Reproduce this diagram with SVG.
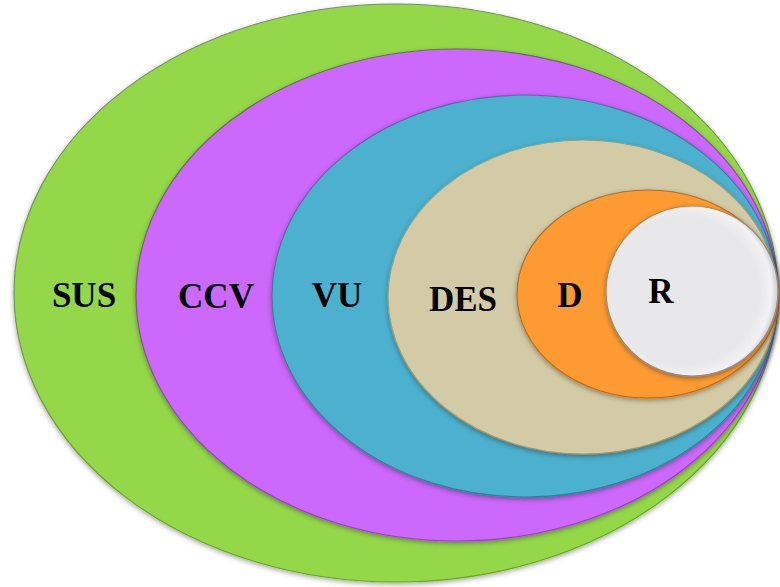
<svg xmlns="http://www.w3.org/2000/svg" width="780" height="587" viewBox="0 0 780 587">
<defs>
<filter id="sh" x="-10%" y="-10%" width="120%" height="120%">
<feDropShadow dx="0" dy="2" stdDeviation="2.5" flood-color="#000" flood-opacity="0.35"/>
</filter>
<radialGradient id="wg" cx="0.45" cy="0.5" r="0.55">
<stop offset="0.8" stop-color="#E8E8EA"/>
<stop offset="0.93" stop-color="#F2F2F4"/>
<stop offset="1" stop-color="#C8CCD2"/>
</radialGradient>
</defs>
<style>
.e{filter:url(#sh);stroke-width:1.2}
.t{font-family:"Liberation Serif","Times New Roman",serif;font-weight:bold;font-size:35px;fill:#000;text-anchor:middle}
</style>
<rect width="780" height="587" fill="#fff"/>
<g id="SUS">
<ellipse class="e" cx="396" cy="293" rx="382" ry="289" fill="#94D84A" stroke="#6E9E36"/>
<text class="t" x="84" y="307">SUS</text>
</g>
<g id="CCV">
<ellipse class="e" cx="457" cy="295" rx="321" ry="246" fill="#CC68FC" stroke="#8E4AB0"/>
<text class="t" x="216" y="308">CCV</text>
</g>
<g id="VU">
<ellipse class="e" cx="525" cy="296" rx="253" ry="201" fill="#4BB1CF" stroke="#357F96"/>
<text class="t" x="337" y="307">VU</text>
</g>
<g id="DES">
<ellipse class="e" cx="583" cy="297" rx="195" ry="157" fill="#D3CBA5" stroke="#A39A72"/>
<text class="t" x="463" y="311">DES</text>
</g>
<g id="D">
<ellipse class="e" cx="648" cy="294" rx="131" ry="104" fill="#FD9A32" stroke="#C06A18"/>
<text class="t" x="570" y="307">D</text>
</g>
<g id="R">
<ellipse class="e" cx="692" cy="291" rx="86" ry="85" fill="url(#wg)" stroke="#9A8A78"/>
<text class="t" x="661" y="303">R</text>
</g>
<g id="connectors"/>
</svg>
